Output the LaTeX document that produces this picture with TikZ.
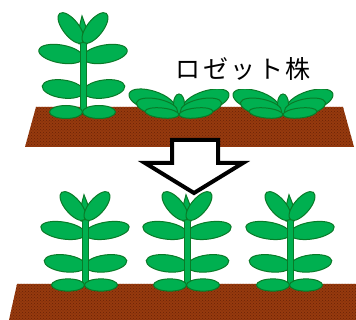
\documentclass[tikz,border=0pt]{standalone}
\usepackage{fontspec}
\newfontfamily\cjk{Noto Sans CJK JP}[LetterSpace=10]
\usetikzlibrary{patterns}
\definecolor{leaf}{HTML}{00B050}
\definecolor{leafline}{HTML}{0A7A28}
\definecolor{soil}{HTML}{963A0E}
\definecolor{soildark}{HTML}{6A2206}
% one elliptic leaf: angle, centre x, centre y, half length, half width
\newcommand\oneleaf[5]{\draw[leafshape,rotate around={#1:(#2,#3)}] (#2,#3) ellipse [x radius=#4, y radius=#5];}
\tikzset{
  leafshape/.style={fill=leaf,draw=leafline,line width=1pt},
  soilfill/.style={fill=soil},
  soiltex/.style={pattern=crosshatch dots,pattern color=soildark},
  bigarrow/.style={fill=white,draw=black,line width=4pt,miter limit=10},
  label/.style={font=\cjk\fontsize{25}{25}\selectfont,inner sep=0pt},
  pics/plant/.style={code={
    % bud between the top leaves
    \draw[leafshape] (-4,-68) .. controls (-5,-80) .. (-1,-96) .. controls (5,-80) .. (4,-68) -- cycle;
    % second and third pairs
    \oneleaf{-10}{-22}{-58}{22.5}{9}
    \oneleaf{10}{22}{-58}{22.5}{9}
    \oneleaf{-8}{-20}{-23}{21}{9}
    \oneleaf{8}{21}{-23}{21}{9}
    % stem
    \draw[leafshape] (-3,-70) rectangle (3,0);
    % top pair
    \oneleaf{128}{-12}{-84}{18.5}{8}
    \oneleaf{52}{12}{-84}{18.5}{8}
    % bottom pair
    \oneleaf{0}{-17}{0}{16.5}{6.5}
    \oneleaf{0}{16}{0}{16.5}{6.5}
  }},
  pics/rosette/.style={code={
    \oneleaf{-18}{-27}{-15}{24}{10}
    \oneleaf{18}{27}{-15}{24}{10}
    \draw[leafshape] (0,-12) ellipse [x radius=5.5, y radius=10];
    \oneleaf{-12}{-22}{-9}{21}{8}
    \oneleaf{12}{22}{-9}{21}{8}
    \oneleaf{-6}{-17}{-3}{17}{5}
    \oneleaf{6}{17}{-3}{17}{5}
  }}
}
\begin{document}
\begin{tikzpicture}[x=1pt,y=-1pt]
  \useasboundingbox (0,0) rectangle (356,320);
  % upper field
  \path[soilfill] (36,107) -- (343,107) -- (354,147) -- (25,147) -- cycle;
  \path[soiltex] (36,107) -- (343,107) -- (354,147) -- (25,147) -- cycle;
  % lower field
  \path[soilfill] (17,284) -- (356,284) -- (356,320) -- (9,320) -- cycle;
  \path[soiltex] (17,284) -- (356,284) -- (356,320) -- (9,320) -- cycle;
  % upper row
  \pic at (83,112) {plant};
  \pic at (179,116) {rosette};
  \pic at (283,116) {rosette};
  % caption box
  \fill[white] (150,48) rectangle (330,89);
  \node[label] (cap) at (243,69) {ロゼット株};
  % lower row
  \pic[yscale=0.94] at (85,285) {plant};
  \pic[yscale=0.94] at (187,285) {plant};
  \pic[yscale=0.94] at (290,285) {plant};
  % hollow arrow
  \draw[bigarrow] (172,140) -- (218,140) -- (218,163) -- (243,163) -- (194,193) -- (145,163) -- (172,163) -- cycle;
\end{tikzpicture}
\end{document}
